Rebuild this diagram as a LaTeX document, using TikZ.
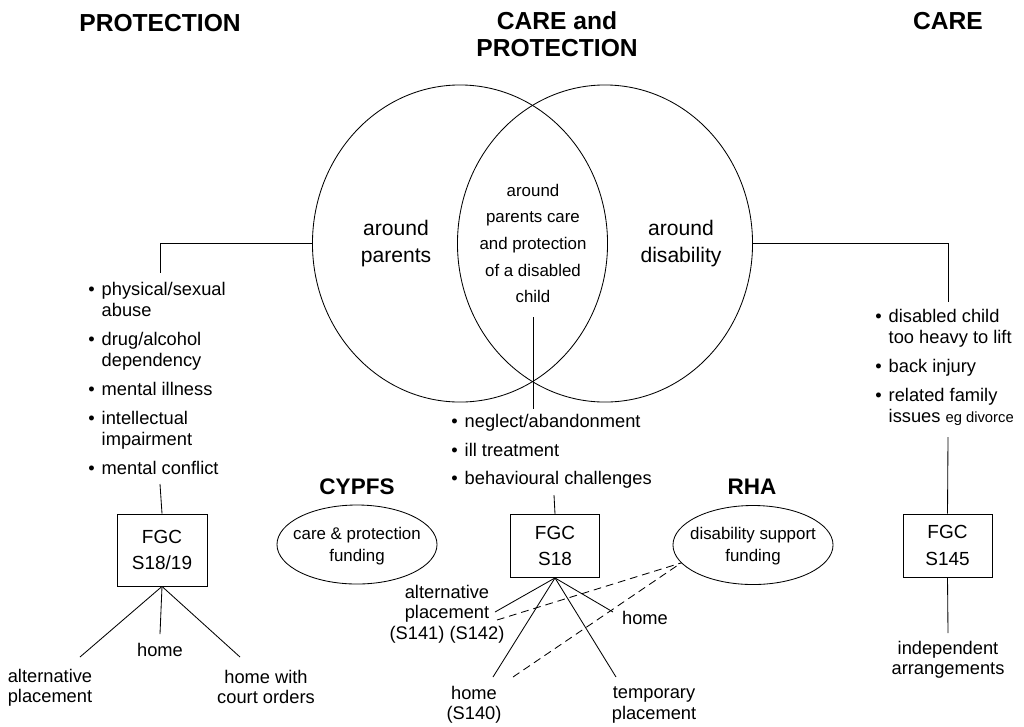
\documentclass[tikz,border=0pt]{standalone}
\usepackage{fontspec}
\setmainfont{Liberation Sans}
\usetikzlibrary{shapes.geometric}

\tikzstyle{heading}=[font=\fontsize{17.5pt}{19pt}\selectfont\bfseries,align=center,inner sep=0pt]
\tikzstyle{agency}=[font=\fontsize{16pt}{19pt}\selectfont\bfseries,inner sep=0pt]
\tikzstyle{venn}=[ellipse,draw=black,line width=0.6pt,inner sep=0pt,minimum width=7.375cm,minimum height=7.925cm]
\tikzstyle{vennlabel}=[font=\fontsize{15pt}{19pt}\selectfont,align=center,inner sep=0pt]
\tikzstyle{lenslabel}=[font=\fontsize{12pt}{19pt}\selectfont,align=center,inner sep=0pt]
\tikzstyle{bullets}=[font=\fontsize{13pt}{15pt}\selectfont,inner sep=0pt,anchor=north west]
\tikzstyle{outcome}=[font=\fontsize{13pt}{14.5pt}\selectfont,align=center,inner sep=0pt]
\tikzstyle{fgc}=[rectangle,draw=black,line width=0.6pt,font=\fontsize{13.5pt}{19pt}\selectfont,align=center,minimum width=2.225cm,minimum height=1.575cm,inner sep=0pt]
\tikzstyle{fund}=[ellipse,draw=black,line width=0.6pt,inner sep=0pt,minimum width=4cm,minimum height=1.975cm]
\tikzstyle{fundlabel}=[font=\fontsize{12pt}{15.6pt}\selectfont,align=center,inner sep=0pt]
\tikzstyle{link}=[line width=0.6pt]
\tikzstyle{fundlink}=[line width=0.6pt,dash pattern=on 5.5pt off 3.5pt]

\newcommand{\bul}{\textbullet}

\begin{document}
\begin{tikzpicture}[x=0.025cm,y=-0.025cm]
		\useasboundingbox (0,0) rectangle (1024,726);

		\node (tprot) at (160,23) [heading] {PROTECTION};
		\node (tboth) at (557,34) [heading] {CARE and\\PROTECTION};
		\node (tcare) at (948,21) [heading] {CARE};

		\node (pc) at (460,243.5) [venn] {};
		\node (dc) at (605,243.5) [venn] {};
		\node (lpar) at (396,243.5) [vennlabel] {around\\parents};
		\node (ldis) at (681,243.5) [vennlabel] {around\\disability};
		\node (lboth) at (533,243.5) [lenslabel] {around\\parents care\\and protection\\of a disabled\\child};

		\node (plist) at (88,280) [bullets] {\begin{tabular}{@{}l@{\hspace{5pt}}l@{}}
			\bul & physical/sexual\\ & abuse\\[5.6pt]
			\bul & drug/alcohol\\ & dependency\\[5.6pt]
			\bul & mental illness\\[5.6pt]
			\bul & intellectual\\ & impairment\\[5.6pt]
			\bul & mental conflict
		\end{tabular}};
		\node (mlist) at (451,412) [bullets] {\begin{tabular}{@{}l@{\hspace{5pt}}l@{}}
			\bul & neglect/abandonment\\[5.6pt]
			\bul & ill treatment\\[5.6pt]
			\bul & behavioural challenges
		\end{tabular}};
		\node (dlist) at (875,307) [bullets] {\begin{tabular}{@{}l@{\hspace{5pt}}l@{}}
			\bul & disabled child\\ & too heavy to lift\\[5.6pt]
			\bul & back injury\\[5.6pt]
			\bul & related family\\ & issues {\fontsize{10.5pt}{15pt}\selectfont eg divorce}
		\end{tabular}};

		\node (cypfs) at (357,487) [agency] {CYPFS};
		\node (cyell) at (357,544.5) [fund] {};
		\node (cytxt) at (357,546) [fundlabel] {care \& protection\\funding};
		\node (rha) at (752,487) [agency] {RHA};
		\node (rhaell) at (753,545) [fund] {};
		\node (rhatxt) at (753,546) [fundlabel] {disability support\\funding};

		\node (fgcl) at (162,550) [fgc,minimum width=2.25cm,minimum height=1.8cm] {FGC\\S18/19};
		\node (fgcm) at (555,546) [fgc] {FGC\\S18};
		\node (fgcr) at (947.5,545.5) [fgc] {FGC\\S145};

		\node (lalt) at (50,688) [outcome] {alternative\\placement};
		\node (lhome) at (160,650) [outcome] {home};
		\node (lcourt) at (266,687) [outcome] {home with\\court orders};
		\node (malt) at (447,614) [outcome] {alternative\\placement\\(S141) (S142)};
		\node (mhome) at (645,618) [outcome] {home};
		\node (mhome2) at (474,705) [outcome] {home\\(S140)};
		\node (mtemp) at (654,705) [outcome] {temporary\\placement};
		\node (rind) at (948,660) [outcome] {independent\\arrangements};

		\coordinate (pl1) at (160,243.5);
		\coordinate (pl2) at (160,273);
		\coordinate (pl3) at (160,484);
		\coordinate (dl1) at (948,243.5);
		\coordinate (dl2) at (948,302);
		\coordinate (dl3) at (948,437);
		\coordinate (ml1) at (533,317);
		\coordinate (ml2) at (533,409);
		\coordinate (ml3) at (554,495);
		\coordinate (la) at (80,657);
		\coordinate (lh) at (160,634);
		\coordinate (lc) at (240,657);
		\coordinate (ma) at (495,612);
		\coordinate (mh) at (613,612);
		\coordinate (mh2) at (493,677);
		\coordinate (mt) at (616,677);
		\coordinate (rd) at (948,633);
		\coordinate (fa) at (497,620);
		\coordinate (fh) at (513,677);

		\draw[link] (pc.west)--(pl1)--(pl2);
		\draw[link] (dc.east)--(dl1)--(dl2);
		\draw[link] (ml1)--(ml2);
		\draw[link] (pl3)--(fgcl.north);
		\draw[link] (ml3)--(fgcm.north);
		\draw[link] (dl3)--(fgcr.north);

		\draw[link] (fgcl.south)--(la);
		\draw[link] (fgcl.south)--(lh);
		\draw[link] (fgcl.south)--(lc);
		\draw[link] (fgcm.south)--(ma);
		\draw[link] (fgcm.south)--(mh);
		\draw[link] (fgcm.south)--(mh2);
		\draw[link] (fgcm.south)--(mt);
		\draw[link] (fgcr.south)--(rd);

		\draw[fundlink] (fa)--(rhaell.194);
		\draw[fundlink] (fh)--(rhaell.194);
	\end{tikzpicture}
\end{document}
